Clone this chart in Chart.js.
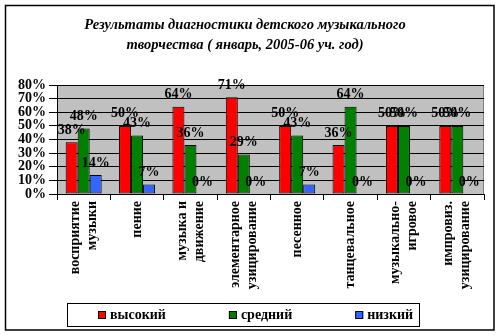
<!DOCTYPE html>
<html>
<head>
<meta charset="utf-8">
<script src="https://cdn.jsdelivr.net/npm/chart.js@4"></script>
<style>
  html, body { margin: 0; padding: 0; background: #fff; }
  #wrap { width: 500px; height: 336px; }
</style>
</head>
<body>
<div id="wrap"><canvas id="chart" width="500" height="336"></canvas></div>
<script>
// chart data
var categories = [
  ["восприятие", "музыки"],
  ["пение"],
  ["музыка и", "движение"],
  ["элементарное", "музицирование"],
  ["песенное"],
  ["танцевальное"],
  ["музыкально-", "игровое"],
  ["импровиз.", "музицирование"]
];
var highValues = [38, 50, 64, 71, 50, 36, 50, 50];
var midValues = [48, 43, 36, 29, 43, 64, 50, 50];
var lowValues = [14, 7, 0, 0, 7, 0, 0, 0];
var seriesNames = ["высокий", "средний", "низкий"];
var titleLines = [
  "Результаты диагностики детского музыкального",
  "творчества ( январь, 2005-06 уч. год)"
];

var serif = "'Liberation Serif', 'Times New Roman', serif";

// white page, outer frame, grey plot area
var backgroundPlugin = {
  id: "background",
  beforeDraw: function (chart) {
    var ctx = chart.ctx, a = chart.chartArea;
    ctx.save();
    ctx.fillStyle = "#fff";
    ctx.fillRect(0, 0, chart.width, chart.height);
    ctx.strokeStyle = "#000";
    ctx.lineWidth = 1.5;
    ctx.strokeRect(5.5, 5.5, 488.5, 324.5);
    ctx.fillStyle = "#c0c0c0";
    ctx.fillRect(a.left, a.top, a.right - a.left, a.bottom - a.top);
    ctx.strokeStyle = "#808080";
    ctx.lineWidth = 1;
    ctx.strokeRect(a.left + 0.5, a.top + 0.5, a.right - a.left - 1, a.bottom - a.top);
    ctx.restore();
  }
};

// vertical category labels, lines centred on the tick
var categoryLabels = {
  id: "categoryLabels",
  afterDraw: function (chart) {
    var ctx = chart.ctx, scale = chart.scales.x;
    ctx.save();
    // long labels get cut off like in the original
    ctx.beginPath();
    ctx.rect(scale.left - 20, scale.top, scale.width + 40, 96);
    ctx.clip();
    ctx.font = "bold 14px " + serif;
    ctx.fillStyle = "#000";
    ctx.textAlign = "right";
    ctx.textBaseline = "middle";
    categories.forEach(function (lines, i) {
      var x = scale.getPixelForTick(i);
      lines.forEach(function (line, k) {
        var off = (k - (lines.length - 1) / 2) * 17;
        ctx.save();
        ctx.translate(x + off, scale.top + 7);
        ctx.rotate(-Math.PI / 2);
        ctx.fillText(line, 0, 0);
        ctx.restore();
      });
    });
    ctx.restore();
  }
};

// value labels above every bar
var valueLabels = {
  id: "valueLabels",
  afterDatasetsDraw: function (chart) {
    var ctx = chart.ctx;
    ctx.save();
    ctx.font = "bold 14px " + serif;
    ctx.fillStyle = "#000";
    ctx.textAlign = "center";
    ctx.textBaseline = "middle";
    chart.data.datasets.forEach(function (ds, i) {
      chart.getDatasetMeta(i).data.forEach(function (bar, j) {
        ctx.fillText(ds.data[j] + "%", bar.x, bar.y - 12);
      });
    });
    ctx.restore();
  }
};

// boxed legend at the bottom
var boxLegend = {
  id: "boxLegend",
  afterDraw: function (chart) {
    var ctx = chart.ctx;
    ctx.save();
    ctx.font = "bold 14px " + serif;
    ctx.textBaseline = "middle";
    ctx.lineWidth = 1;
    ctx.strokeStyle = "#000";
    ctx.fillStyle = "#fff";
    ctx.fillRect(67.5, 303.5, 352, 23);
    ctx.strokeRect(67.5, 303.5, 352, 23);
    var x = 98, y = 315;
    chart.data.datasets.forEach(function (ds) {
      ctx.fillStyle = ds.backgroundColor;
      ctx.fillRect(x, y - 4, 8, 8);
      ctx.strokeRect(x + 0.5, y - 3.5, 7, 7);
      ctx.fillStyle = "#000";
      ctx.fillText(ds.label, x + 12, y);
      x += 12 + ctx.measureText(ds.label).width + 63;
    });
    ctx.restore();
  }
};

var ctx = document.getElementById("chart").getContext("2d");
var chart = new Chart(ctx, {
  type: "bar",
  data: {
    labels: categories,
    datasets: [
      { label: seriesNames[0], data: highValues, backgroundColor: "#ff0000" },
      { label: seriesNames[1], data: midValues, backgroundColor: "#008000" },
      { label: seriesNames[2], data: lowValues, backgroundColor: "#3366ff" }
    ]
  },
  options: {
    responsive: false,
    animation: false,
    layout: { padding: { left: 6, right: 16, top: 0, bottom: 46 } },
    datasets: {
      bar: {
        borderColor: "#000",
        borderWidth: 1,
        borderSkipped: false,
        categoryPercentage: 0.675,
        barPercentage: 1
      }
    },
    plugins: {
      legend: { display: false },
      tooltip: { enabled: false },
      title: {
        display: true,
        text: titleLines,
        color: "#000",
        font: { family: serif, size: 14.5, weight: "bold", style: "italic", lineHeight: 1.38 },
        padding: { top: 15, bottom: 30 }
      }
    },
    scales: {
      x: {
        afterFit: function (scale) { scale.height = 96; },
        grid: { drawOnChartArea: false, color: "#000", tickLength: 6 },
        border: { color: "#000" },
        ticks: { display: false, autoSkip: false }
      },
      y: {
        min: 0,
        max: 80,
        afterFit: function (scale) { scale.width = 51; },
        grid: { color: "#000", tickLength: 8 },
        border: { color: "#000" },
        ticks: {
          stepSize: 10,
          autoSkip: false,
          color: "#000",
          padding: 3,
          font: { family: serif, size: 14, weight: "bold" },
          callback: function (v) { return v + "%"; }
        }
      }
    }
  },
  plugins: [backgroundPlugin, valueLabels, categoryLabels, boxLegend]
});
</script>
</body>
</html>
